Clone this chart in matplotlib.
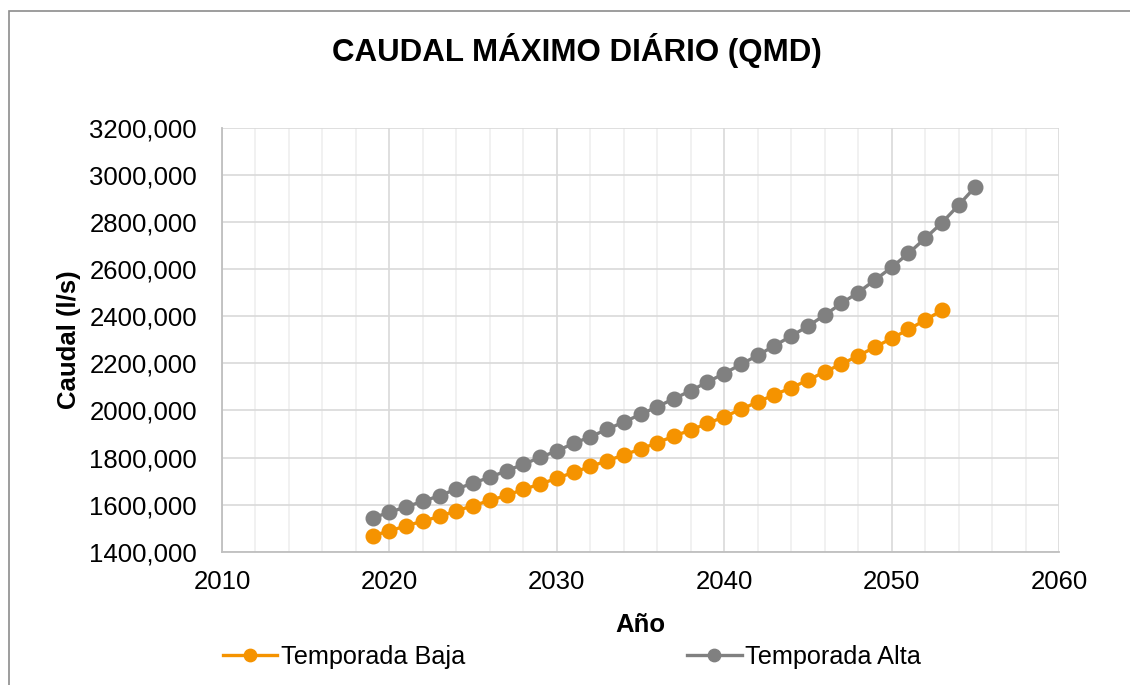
import matplotlib.pyplot as plt
from matplotlib.patches import Rectangle
from matplotlib.ticker import MultipleLocator, FuncFormatter

plt.rcParams['font.family'] = ['Liberation Sans', 'DejaVu Sans']

# Data
years_baja = list(range(2019, 2054))
q_baja = [1468, 1488, 1510, 1530, 1550, 1574, 1595, 1618, 1639, 1665,
          1687, 1712, 1737, 1762, 1786, 1811, 1836, 1863, 1891, 1917,
          1945, 1973, 2005, 2036, 2067, 2096, 2129, 2164, 2197, 2232,
          2269, 2306, 2344, 2384, 2425]

years_alta = list(range(2019, 2056))
q_alta = [1544, 1567, 1591, 1614, 1638, 1666, 1692, 1716, 1744, 1771,
          1801, 1828, 1860, 1888, 1920, 1951, 1983, 2016, 2050, 2084,
          2121, 2157, 2196, 2234, 2275, 2316, 2358, 2405, 2455, 2501,
          2554, 2608, 2667, 2731, 2797, 2872, 2950]

orange = '#F59300'
grey = '#808080'

fig = plt.figure(figsize=(11.3, 6.85), dpi=100)
ax = fig.add_axes([222 / 1130, 1 - 551.7 / 685, (1059 - 222) / 1130, (551.7 - 128) / 685])

# outer chart border
fig.patches.append(Rectangle((8.5 / 1130, -0.1), 1.2, (674 / 685) + 0.1,
                             transform=fig.transFigure, fill=False,
                             edgecolor='#8C8C8C', linewidth=1.2, zorder=0))

ax.plot(years_baja, q_baja, color=orange, lw=2.4, marker='o', ms=10.5,
        label='Temporada Baja', zorder=3)
ax.plot(years_alta, q_alta, color=grey, lw=2.4, marker='o', ms=10.5,
        label='Temporada Alta', zorder=3)

ax.set_xlim(2010, 2060)
ax.set_ylim(1400, 3200)
ax.xaxis.set_major_locator(MultipleLocator(10))
ax.xaxis.set_minor_locator(MultipleLocator(2))
ax.yaxis.set_major_locator(MultipleLocator(200))
ax.yaxis.set_major_formatter(FuncFormatter(lambda v, p: f'{int(v)},000'))

ax.grid(which='major', color='#D9D9D9', lw=1.2)
ax.grid(which='minor', axis='x', color='#EFEFEF', lw=1.2)
ax.set_axisbelow(True)

for side in ['top', 'right']:
    ax.spines[side].set_visible(False)
for side in ['left', 'bottom']:
    ax.spines[side].set_color('#BFBFBF')
    ax.spines[side].set_linewidth(1.3)

ax.tick_params(which='both', length=0, labelsize=18.5, colors='black')
ax.tick_params(axis='y', pad=18)
ax.tick_params(axis='x', pad=13)

ax.set_xlabel('Año', fontsize=18.5, fontweight='bold', labelpad=14)
ax.set_ylabel('Caudal (l/s)', fontsize=18.5, fontweight='bold', labelpad=6)
fig.text(577 / 1130, 1 - 50 / 685, 'CAUDAL MÁXIMO DIÁRIO (QMD)', fontsize=22.5,
         fontweight='bold', ha='center', va='center')

fig.legend(loc='center', bbox_to_anchor=(572 / 1130, 1 - 657 / 685), ncol=2,
           frameon=False, fontsize=18.2, handlelength=2.15, handletextpad=0.15,
           columnspacing=8.78, markerscale=0.85)

fig.savefig('out.png', dpi=100)
